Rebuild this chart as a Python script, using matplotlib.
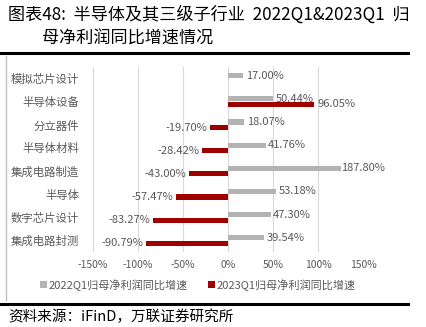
import numpy as np
import matplotlib
matplotlib.use("Agg")
import matplotlib.pyplot as plt
from matplotlib.lines import Line2D
from matplotlib.patches import Patch

plt.rcParams['font.family'] = ['Noto Sans CJK SC', 'DejaVu Sans']
plt.rcParams['axes.unicode_minus'] = False

categories = ['模拟芯片设计', '半导体设备', '分立器件', '半导体材料',
              '集成电路制造', '半导体', '数字芯片设计', '集成电路封测']
q2022 = [17.00, 50.44, 18.07, 41.76, 187.80, 53.18, 47.30, 39.54]
q2023 = [np.nan, 96.05, -19.70, -28.42, -43.00, -57.47, -83.27, -90.79]
ticks = [-150, -100, -50, 0, 50, 100, 150]
tick_labels = ['-150%', '-100%', '-50%', '0%', '50%', '100%', '150%']
series_names = ['2022Q1归母净利润同比增速', '2023Q1归母净利润同比增速']

W, H = 426, 327
fig = plt.figure(figsize=(W / 100, H / 100), dpi=100)

def fx(px):
    return px / W

def fy(py):
    return 1 - py / H

# title
fig.text(fx(8), fy(15), '图表48:  半导体及其三级子行业  2022Q1&2023Q1  归',
         fontsize=12.3, color='black', va='center', ha='left')
fig.text(fx(42), fy(39), '母净利润同比增速情况',
         fontsize=12.3, color='black', va='center', ha='left')
# rules
fig.add_artist(Line2D([0, fx(408)], [fy(53), fy(53)], color='black', lw=2.2))
fig.add_artist(Line2D([0, fx(408)], [fy(304), fy(304)], color='black', lw=2.2))
fig.add_artist(Line2D([fx(6), fx(6)], [fy(56), fy(300)], color='#BFBFBF', lw=1))
fig.text(fx(8), fy(317), '资料来源：iFinD，万联证券研究所', fontsize=10.5,
         style='italic', color='black', va='center', ha='left')

ax = fig.add_axes([fx(93), fy(252), fx(363) - fx(93), fy(67) - fy(252)])
xmin, xmax = -150, 150
ax.set_xlim(xmin, xmax)
n = len(categories)
y = np.arange(n)
ax.set_ylim(n - 0.5, -0.5)

gray = '#B3B3B3'
red = '#9E0000'
h = 0.22
off = 0.12
ax.barh(y - off, q2022, height=h, color=gray, zorder=2)
ax.barh(y + off, q2023, height=h, color=red, zorder=2)

lab_color = '#595959'
fs = 8
for i in range(n):
    v = q2022[i]
    if v > xmax:
        ax.text(xmax, y[i] - off, f'{v:.2f}%', ha='center', va='center',
                fontsize=fs, color=lab_color, zorder=4, clip_on=False,
                bbox=dict(facecolor='white', edgecolor='none', pad=0.3))
    else:
        ax.text(v + 3, y[i] - off, f'{v:.2f}%', ha='left', va='center',
                fontsize=fs, color=lab_color, zorder=4)
    v = q2023[i]
    if not np.isnan(v):
        if v >= 0:
            ax.text(v + 3, y[i] + off, f'{v:.2f}%', ha='left', va='center',
                    fontsize=fs, color=lab_color, zorder=4)
        else:
            ax.text(v - 3, y[i] + off, f'{v:.2f}%', ha='right', va='center',
                    fontsize=fs, color=lab_color, zorder=4)

ax.set_xticks(ticks)
ax.set_xticklabels(tick_labels, fontsize=7.5, color=lab_color)
ax.set_yticks(y)
ax.set_yticklabels(categories, fontsize=8.2, color=lab_color)
ax.tick_params(axis='both', length=0)
ax.tick_params(axis='x', pad=6)
ax.tick_params(axis='y', pad=10)
ax.grid(axis='x', color='#D9D9D9', lw=0.8, zorder=0)
ax.set_axisbelow(True)
for s in ax.spines.values():
    s.set_visible(False)

handles = [Patch(facecolor=gray, edgecolor='none'), Patch(facecolor=red, edgecolor='none')]
fig.legend(handles, series_names, loc='center', bbox_to_anchor=(fx(198), fy(285)),
           ncol=2, frameon=False, fontsize=8, handlelength=0.6, handleheight=0.6,
           handletextpad=0.2, columnspacing=1.8, labelcolor=lab_color)

fig.savefig('out.png', dpi=100)
